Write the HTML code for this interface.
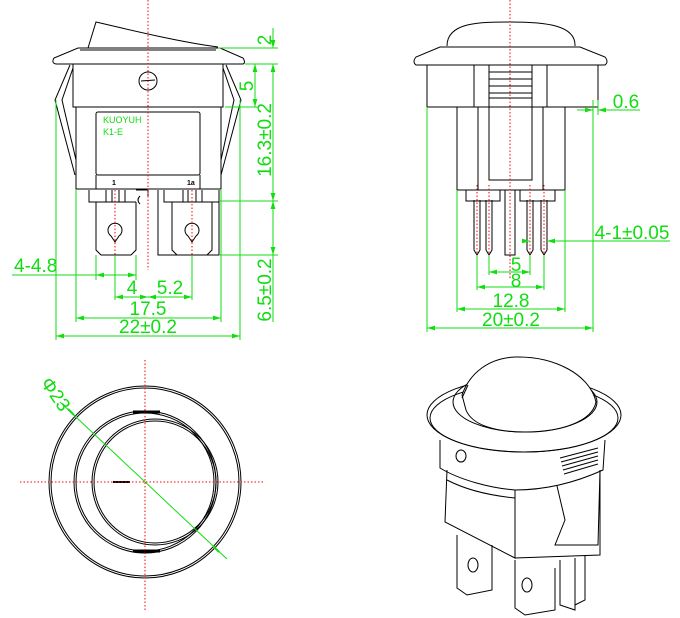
<!DOCTYPE html>
<html><head><meta charset="utf-8"><style>
html,body{margin:0;padding:0;background:#fff;width:680px;height:618px;overflow:hidden}
svg{display:block}
text{font-family:"Liberation Sans",sans-serif}
</style></head><body>
<svg width="680" height="618" viewBox="0 0 680 618" xmlns="http://www.w3.org/2000/svg">
<defs>
<marker id="a" viewBox="0 0 10 6" refX="10" refY="3" markerWidth="8" markerHeight="5" orient="auto-start-reverse"><path d="M0,0 L10,3 L0,6 z" fill="#11dd11"/></marker>
</defs>
<g fill="none" stroke="#000" stroke-width="1">
<!-- TOP LEFT VIEW -->
<path d="M88,48 L96,22 C130,30 180,42 218,47"/>
<path d="M78,48 L220,48 L243,58 Q246,63 243,64 L56,64 Q51,63 54,58 Z"/>
<path d="M80,50 L216,50"/>
<rect x="73" y="64" width="150" height="43"/>
<circle cx="148" cy="81" r="9"/><line x1="141" y1="81" x2="155" y2="80"/>
<rect x="76" y="107" width="145" height="82"/>
<rect x="96" y="112" width="104" height="63" rx="2"/>
<path d="M96,175 L96,189 M200,175 L200,189"/>
<path d="M70,65 L55,100 L75,175 M73,68 L62,100 L76,160"/>
<path d="M226,65 L241,100 L221,175 M223,68 L234,100 L221,160"/>
<path d="M89,190 L89,202 L136,202 M96,202 L96,250 L101,255 L131,255 L136,250 L136,202"/>
<path d="M106,190 L106,202 M112,190 L112,202 M119,190 L119,202 M125,190 L125,202"/>
<path d="M136,190 L148,190 L148,196 M140,196 Q136,200 140,204"/>
<path d="M158,190 L158,255 L219,255 L219,190 M164,190 L164,202 L219,202 M172,202 L172,250 L177,255 M212,202 L212,250 L207,255"/>
<path d="M183,190 L183,202 M188,190 L188,202 M196,190 L196,202 M202,190 L202,202"/>
<path d="M111,236 A7,7 0 1 1 119,236 L115,242 Z"/>
<path d="M188,236 A7,7 0 1 1 196,236 L192,242 Z"/>
<!-- TOP RIGHT VIEW -->
<path d="M447,46 C447,22 480,22 511,22 C545,22 576,25 575,46"/>
<path d="M440,47 L580,47 L605,57 Q609,62 605,65 L416,65 Q412,62 416,57 Z"/>
<rect x="427" y="65" width="171" height="42"/>
<path d="M474,65 L474,107 M547,65 L547,107 M489,65 L489,180 L532,180 L532,65"/>
<path d="M489,72 L532,72 M489,79 L532,79 M489,86 L532,86 M489,93 L532,93 M489,98 L532,98"/>
<rect x="457" y="107" width="108" height="83"/>
<path d="M478,107 L478,190 M543,107 L543,190"/>
<path d="M466,190 L466,201 L500,201 L500,190 M520,190 L520,201 L555,201 L555,190"/>
<path d="M474,200 L474,250 L477,255 L480,250 L480,200 M486,200 L486,250 L489,255 L492,250 L492,200"/>
<path d="M527,200 L527,250 L530,255 L533,250 L533,200 M541,200 L541,250 L544,255 L547,250 L547,200"/>
<rect x="505" y="190" width="10" height="65"/>
<!-- BOTTOM LEFT -->
<circle cx="145" cy="482" r="96"/><circle cx="145" cy="482" r="94"/>
<circle cx="145" cy="482" r="71"/><circle cx="145" cy="482" r="69"/>
<circle cx="155" cy="482" r="63"/><circle cx="155" cy="482" r="61"/>
<path d="M133,412 L160,412 M133,551 L160,551" stroke-width="3"/>
<path d="M113,482 L130,482" stroke-width="2"/>
<!-- BOTTOM RIGHT ISO -->
<path d="M440,440 L440,468 C460,480 490,488 515,490 C540,490 570,485 603,470 L605,440"/>
<ellipse cx="524" cy="415" rx="97" ry="37" fill="#fff"/>
<ellipse cx="524" cy="418" rx="94" ry="34"/>
<ellipse cx="525" cy="402" rx="72" ry="30"/>
<path d="M462,395 C470,372 490,358 515,357 C555,356 590,375 596,402 C592,422 560,432 525,432 C495,432 472,425 466,410 Z" fill="#fff"/>
<path d="M468,385 L462,398"/>
<ellipse cx="461" cy="456" rx="5" ry="6"/>
<path d="M447,470 L445,522 L515,558 L515,490 M515,558 L600,555 L600,470"/>
<path d="M447,480 C470,492 495,496 515,498"/>
<path d="M557,486 L565,520 L555,545 L598,545 L600,470 M560,458 L598,448 M561,462 L598,452 M562,466 L598,456 M563,470 L598,460 M564,474 L598,464"/>
<path d="M457,535 L457,588 L467,595 L492,590 L492,545"/>
<ellipse cx="473" cy="565" rx="5" ry="7"/>
<path d="M515,560 L515,608 L525,615 L555,610 L555,568"/>
<ellipse cx="527" cy="585" rx="5" ry="7"/>
<path d="M560,560 L560,605 L575,610 L575,558 M585,555 L585,600 L575,605"/>
</g>
<!-- red center lines -->
<g stroke="#ff0000" stroke-width="1" stroke-dasharray="1.5,2" fill="none">
<line x1="148" y1="0" x2="148" y2="270"/>
<line x1="115" y1="190" x2="115" y2="275"/>
<line x1="192" y1="190" x2="192" y2="275"/>
<line x1="510" y1="0" x2="510" y2="280"/>
<line x1="477" y1="185" x2="477" y2="255"/>
<line x1="489" y1="185" x2="489" y2="255"/>
<line x1="530" y1="185" x2="530" y2="255"/>
<line x1="544" y1="185" x2="544" y2="255"/>
<line x1="20" y1="482" x2="265" y2="482"/>
<line x1="145" y1="360" x2="145" y2="612"/>
</g>
<g fill="#11dd11" font-size="9"><text x="103" y="123">KUOYUH</text><text x="103" y="135">K1-E</text></g>
<g fill="#000" font-size="7" font-weight="bold"><text x="112" y="185">1</text><text x="187" y="185">1a</text></g>
<!-- green dims -->
<g stroke="#11dd11" stroke-width="1" fill="none">
<path d="M218,48 L278,48 M245,64 L278,64 M225,107 L258,107 M220,201 L278,201 M220,255 L278,255"/>
<line x1="273" y1="28" x2="273" y2="48" marker-end="url(#a)"/>
<line x1="273" y1="64" x2="273" y2="201" marker-start="url(#a)" marker-end="url(#a)"/>
<line x1="273" y1="201" x2="273" y2="255" marker-start="url(#a)" marker-end="url(#a)"/>
<line x1="273" y1="255" x2="273" y2="322"/>
<line x1="255" y1="64" x2="255" y2="107" marker-start="url(#a)" marker-end="url(#a)"/>
<path d="M56,100 L56,340 M240,100 L240,340 M76,190 L76,322 M221,190 L221,322 M96,255 L96,280 M136,255 L136,280 M115,255 L115,300 M192,255 L192,300"/>
<line x1="12" y1="275" x2="96" y2="275"/>
<line x1="96" y1="275" x2="136" y2="275" marker-start="url(#a)" marker-end="url(#a)"/>
<line x1="115" y1="297" x2="148" y2="297" marker-start="url(#a)" marker-end="url(#a)"/>
<line x1="148" y1="297" x2="192" y2="297" marker-start="url(#a)" marker-end="url(#a)"/>
<line x1="76" y1="318" x2="221" y2="318" marker-start="url(#a)" marker-end="url(#a)"/>
<line x1="56" y1="336" x2="240" y2="336" marker-start="url(#a)" marker-end="url(#a)"/>
<path d="M427,107 L427,332 M593,100 L593,332 M598,100 L598,115 M457,190 L457,312 M565,190 L565,312 M477,255 L477,290 M544,255 L544,290 M489,255 L489,275 M530,255 L530,275"/>
<line x1="577" y1="110" x2="593" y2="110" marker-end="url(#a)"/>
<line x1="640" y1="110" x2="598" y2="110" marker-end="url(#a)"/>
<line x1="523" y1="241" x2="530" y2="241" marker-end="url(#a)"/>
<line x1="670" y1="241" x2="547" y2="241" marker-end="url(#a)"/>
<line x1="489" y1="272" x2="530" y2="272" marker-start="url(#a)" marker-end="url(#a)"/>
<line x1="477" y1="287" x2="544" y2="287" marker-start="url(#a)" marker-end="url(#a)"/>
<line x1="457" y1="309" x2="565" y2="309" marker-start="url(#a)" marker-end="url(#a)"/>
<line x1="427" y1="328" x2="593" y2="328" marker-start="url(#a)" marker-end="url(#a)"/>
<line x1="60" y1="402" x2="227" y2="559"/>
<path d="M68,409 L74,415 M213,546 L219,552" stroke-width="2"/>
</g>
<g fill="#11dd11" font-size="19">
<text transform="translate(271,40) rotate(-90)" text-anchor="middle">2</text>
<text transform="translate(253,86) rotate(-90)" text-anchor="middle">5</text>
<text transform="translate(271,140) rotate(-90)" text-anchor="middle">16.3±0.2</text>
<text transform="translate(271,290) rotate(-90)" text-anchor="middle">6.5±0.2</text>
<text x="14" y="272">4-4.8</text>
<text x="132" y="294" text-anchor="middle">4</text>
<text x="170" y="294" text-anchor="middle">5.2</text>
<text x="148" y="315" text-anchor="middle">17.5</text>
<text x="148" y="333" text-anchor="middle">22±0.2</text>
<text x="626" y="108" text-anchor="middle">0.6</text>
<text x="632" y="239" text-anchor="middle">4-1±0.05</text>
<text x="516" y="271" text-anchor="middle">5</text>
<text x="516" y="287" text-anchor="middle">8</text>
<text x="511" y="307" text-anchor="middle">12.8</text>
<text x="511" y="326" text-anchor="middle">20±0.2</text>
<text transform="translate(40,383) rotate(55)">Φ23</text>
</g>
</svg>
</body></html>
